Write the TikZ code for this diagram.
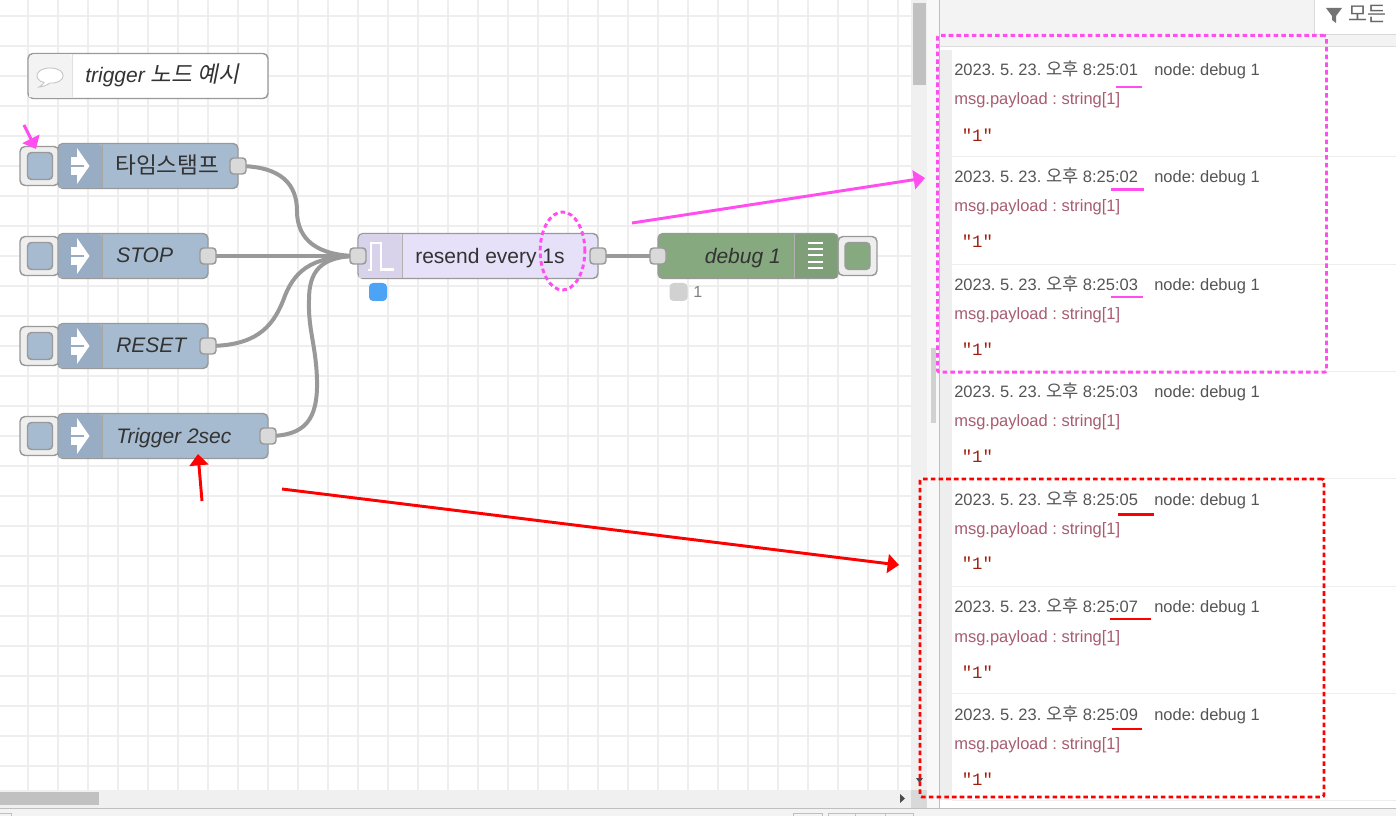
\documentclass[tikz,border=0pt]{standalone}
\usepackage{fontspec}
\usetikzlibrary{arrows.meta,shapes.geometric}
\setmainfont{Liberation Sans}
\newfontfamily\kr{Noto Sans CJK KR}
\newfontfamily\krit[FakeSlant=0.2]{Noto Sans CJK KR}
\newfontfamily\mymono{Liberation Mono}
\frenchspacing
\definecolor{gridc}{HTML}{EEEEEE}
\definecolor{panel}{HTML}{F3F3F3}
\definecolor{track}{HTML}{F0F0F0}
\definecolor{thumb}{HTML}{C1C1C1}
\definecolor{bord}{HTML}{999999}
\definecolor{inj}{HTML}{A6BBCF}
\definecolor{injd}{HTML}{98ADC3}
\definecolor{dbg}{HTML}{87A980}
\definecolor{dbgd}{HTML}{7F9F78}
\definecolor{trg}{HTML}{E6E0F8}
\definecolor{trgd}{HTML}{D8D2EA}
\definecolor{mag}{HTML}{FF4DF0}
\definecolor{rd}{HTML}{FF0000}
\definecolor{msgc}{HTML}{A85C70}
\definecolor{tsc}{HTML}{555555}
\definecolor{valc}{HTML}{A02010}
\definecolor{txt}{HTML}{333333}
\definecolor{HTMLport}{HTML}{D9D9D9}
\definecolor{HTMLblue}{HTML}{4DA3F5}
\pgfdeclarelayer{back}
\pgfdeclarelayer{wires}
\pgfsetlayers{back,wires,main}
\tikzset{
  body/.style={draw=bord,line width=1.1pt,rounded corners=3.75pt,inner sep=0pt,minimum height=33.75pt},
  btn/.style={draw=bord,fill=gridc,line width=1.1pt,rounded corners=3.75pt,inner sep=0pt,minimum width=29.25pt,minimum height=29.25pt},
  btnin/.style={draw=bord,line width=1.1pt,rounded corners=3pt,inner sep=0pt,minimum width=18.75pt,minimum height=20.25pt},
  port/.style={draw=bord,fill=HTMLport,line width=1.1pt,rounded corners=2.6pt,inner sep=0pt,minimum size=12pt},
  nlabel/.style={text=txt,inner sep=0pt,font=\fontsize{15.75}{18}\selectfont},
  itlabel/.style={nlabel,anchor=base west,font=\itshape\fontsize{15.75}{18}\selectfont},
  wire/.style={draw=bord,line width=3pt},
  tsline/.style={text=tsc,inner sep=0pt,anchor=base west,font=\fontsize{12.375}{14}\selectfont},
  msgline/.style={text=msgc,inner sep=0pt,anchor=base west,font=\fontsize{12.375}{14}\selectfont},
  valline/.style={text=valc,inner sep=0pt,anchor=base west,font=\mymono\fontsize{13}{15}\selectfont},
  magline/.style={draw=mag,line width=2.2pt},
  redline/.style={draw=rd,line width=2.2pt},
  tipm/.style={-{Triangle[length=8.5pt,width=14pt]}},
  dashbox/.style={line width=2.2pt,dash pattern=on 3.4pt off 2.4pt,line join=round,inner sep=0pt},
  sepl/.style={draw=gridc,line width=0.8pt},
  injico/.pic={
    \fill[white] (-9,-9) rectangle (3,9);
    \fill[white] (-3,-18) -- (9.5,0) -- (-3,18) -- cycle;
    \draw[injd,line width=1.2pt] (-10,0) -- (3.5,0);
  }
}
\begin{document}
\begin{tikzpicture}[x=0.75pt,y=-0.75pt]
\useasboundingbox (0,0) rectangle (1396,816);
\begin{pgfonlayer}{back}
\fill[white] (0,0) rectangle (1396,816);
% canvas grid
\foreach \k in {0,...,29} \draw[gridc,line width=1.5pt] ({28.3+30*\k},0) -- ({28.3+30*\k},790);
\foreach \k in {0,...,25} \draw[gridc,line width=1.5pt] (0,{15.7+30*\k}) -- (911,{15.7+30*\k});
% scrollbars
\fill[track] (0,790) rectangle (911,808);
\fill[thumb] (0,792) rectangle (99,805);
\fill[track] (911,0) rectangle (927,790);
\fill[thumb] (913,3) rectangle (926,85);
\fill[HTMLport] (911,790) rectangle (927,808);
\fill[black!70] (900,794) -- (905,798.5) -- (900,803) -- cycle;
\fill[black!70] (916,778) -- (923,778) -- (919.5,783) -- cycle;
\fill[panel!60!white] (927,0) rectangle (939,808);
\fill[black!18] (930.5,348) rectangle (935.5,423);
% debug panel
\fill[panel] (939,0) rectangle (1396,47);
\fill[gridc] (940,50) rectangle (952,800);
\draw[black!25,line width=0.75pt] (939.5,0) -- (939.5,808);
\draw[black!13,line width=0.75pt] (940,47) -- (1396,47);
\fill[panel] (0,809) rectangle (1396,816);
\draw[black!25,line width=0.75pt] (0,808.5) -- (1396,808.5);
\foreach \yy in {156.5,264.5,371.5,478.5,586.5,693.5,800.5} \draw[sepl] (952,\yy) -- (1396,\yy);
% filter box
\node[draw=black!15,fill=white,line width=0.75pt,inner sep=0pt,minimum width=70pt,minimum height=26pt,anchor=north west] (filterbox) at (1313.5,-1) {};
\fill[black!55] (1326,8) -- (1342,8) -- (1336,16) -- (1336,23) -- (1332,20) -- (1332,16) -- cycle;
\node[text=black!60,inner sep=0pt,anchor=west,font=\kr\fontsize{15.5}{17}\selectfont] (filtertext) at (1348,14) {모든};
% bottom toolbar stubs
\draw[black!25,line width=0.75pt] (0,813.5) -- (11,813.5) -- (11,816);
\draw[black!25,line width=0.75pt] (793,816) -- (793,813.5) -- (822,813.5) -- (822,816);
\draw[black!25,line width=0.75pt] (828,816) -- (828,813.5) -- (913,813.5) -- (913,816);
\draw[black!25,line width=0.75pt] (855,813.5) -- (855,816) (885,813.5) -- (885,816);
\end{pgfonlayer}
% comment node
\node[body,fill=white,minimum width=180pt,minimum height=33.75pt] (comment) at (148,76) {};
\fill[panel,rounded corners=3pt] (29,97.5) -- (29,54.5) -- (72,54.5) [sharp corners] -- (72,97.5) -- cycle;
\draw[black!12,line width=0.6pt] (72,54.5) -- (72,97.5);
\draw[black!22,fill=white,line width=0.7pt] (44,82.5) .. controls (33,80) and (35,68) .. (50,68) .. controls (68,68) and (67,84) .. (50,83) .. controls (47,85) and (43,87) .. (39,87) .. controls (41,86) and (44,84) .. (44,82.5) -- cycle;
\node[itlabel] (commenttext) at (85,82.5) {trigger {\krit\fontsize{17}{18}\selectfont 노드 예시}};
% inject nodes
\foreach \nm/\yc/\xc/\wdd/\xr in {a/166/148/135/238,b/256/133/112.5/208,c/346/133/112.5/208,d/436/163/157.5/268}{
  \node[btn] (btn\nm) at (39.5,\yc) {};
  \node[btnin,fill=inj] (bin\nm) at (40,\yc) {};
  \node[body,fill=inj,minimum width=\wdd pt] (inj\nm) at (\xc,\yc) {};
  \fill[injd,rounded corners=3pt] (58.8,\yc+21.8) -- (58.8,\yc-21.8) -- (102,\yc-21.8) [sharp corners] -- (102,\yc+21.8) -- cycle;
  \draw[black!35,line width=0.5pt] (102,\yc-21.8) -- (102,\yc+21.8);
  \pic at (80,\yc) {injico};
  \node[port] (out\nm) at (\xr,\yc) {};
}
\node[nlabel,anchor=west,font=\kr\fontsize{17}{18}\selectfont] (la) at (115,165) {타임스탬프};
\node[itlabel] (lb) at (116,263) {STOP};
\node[itlabel] (lc) at (116,353) {RESET};
\node[itlabel] (ld) at (116,443.5) {Trigger 2sec};
% trigger node
\node[body,fill=trg,minimum width=180pt] (trig) at (478,256) {};
\fill[trgd,rounded corners=3pt] (358.8,277.8) -- (358.8,234.2) -- (402,234.2) [sharp corners] -- (402,277.8) -- cycle;
\draw[black!30,line width=0.5pt] (402,234.2) -- (402,277.8);
\draw[white,line width=1.9pt] (367.5,270) -- (371,270) -- (371,243) -- (381,243) -- (381,269.5) -- (393.5,269.5);
\node[port] (trigin) at (358,256) {};
\node[port] (trigout) at (598,256) {};
\node[nlabel,anchor=base west] (trigtext) at (415,263.5) {resend every 1s};
\node[fill=HTMLblue,rounded corners=3pt,inner sep=0pt,minimum size=13.5pt] (trigstat) at (378,292) {};
% debug node
\node[btn] (dbtn) at (857.5,256) {};
\node[btnin,fill=dbg] (dbin) at (857.5,256) {};
\node[body,fill=dbg,minimum width=135pt] (dbgn) at (748,256) {};
\fill[dbgd,rounded corners=3pt] (837.2,277.8) -- (837.2,234.2) -- (794,234.2) [sharp corners] -- (794,277.8) -- cycle;
\draw[black!30,line width=0.5pt] (794,234.2) -- (794,277.8);
\foreach \yy in {243,249,255,262,268} \draw[white,line width=1.4pt] (808,\yy) -- (823,\yy);
\node[port] (dbgin) at (658,256) {};
\node[itlabel,anchor=base east] (dbgtext) at (781,263.5) {debug 1};
\node[fill=black!18,rounded corners=3pt,inner sep=0pt,minimum size=13.5pt] (dbgstat) at (678.5,292) {};
\node[text=black!50,inner sep=0pt,anchor=west,font=\fontsize{12}{14}\selectfont] (dbgcount) at (693,292) {1};
% wires
\begin{pgfonlayer}{wires}
\draw[wire] (outa.center) .. controls (282,166) and (297,185) .. (297,211) .. controls (297,240) and (318,256) .. (trigin.center);
\draw[wire] (outb.center) -- (trigin.center);
\draw[wire] (outc.center) .. controls (255,346) and (272,328) .. (283,301) .. controls (293,272) and (310,256) .. (trigin.center);
\draw[wire] (outd.center) .. controls (305,436) and (318,420) .. (317,380) .. controls (316,345) and (308,330) .. (309,300) .. controls (309,272) and (320,256) .. (trigin.center);
\draw[wire] (trigout.center) -- (dbgin.center);
\end{pgfonlayer}
% debug messages
\foreach \i/\tm/\yt/\ym/\yv in {1/01/76/105/141.5,2/02/183/212/247.5,3/03/291/320/355.5,4/03/398/427/462.5,5/05/505/534/569.5,6/07/612/642/678,7/09/720/749/785.5}{
  \node[tsline] (ts\i) at (954,\yt) {2023. 5. 23. {\kr\fontsize{13.2}{14}\selectfont 오후} 8:25:\tm};
  \node[tsline] (nd\i) at (1154,\yt) {node: debug 1};
  \node[msgline] (ms\i) at (954,\ym) {msg.payload : string[1]};
  \node[valline] (vl\i) at (961.5,\yv) {"1"};
}
% annotations
\coordinate (ma1) at (24,125); \coordinate (ma2) at (36,149);
\draw[magline,tipm] (ma1) -- (ma2);
\coordinate (mb1) at (632,223); \coordinate (mb2) at (925,178);
\draw[magline,tipm] (mb1) -- (mb2);
\node[draw=mag,ellipse,dashbox,minimum width=33.5pt,minimum height=58.5pt] (ell) at (562.5,251) {};
\node[draw=mag,dashbox,rounded corners=1.5pt,minimum width=291.75pt,minimum height=252.5pt,anchor=north west] (magbox) at (936,34) {};
\foreach \xa/\xb/\yy in {1116/1142/87,1111/1144/189.5,1111/1143/297}{
  \draw[magline] (\xa,\yy) -- (\xb,\yy);
}
\coordinate (ra1) at (202,501); \coordinate (ra2) at (198,454);
\draw[redline,tipm] (ra1) -- (ra2);
\coordinate (rb1) at (282,489); \coordinate (rb2) at (899,565);
\draw[redline,tipm] (rb1) -- (rb2);
\node[draw=rd,dashbox,rounded corners=1.5pt,minimum width=303pt,minimum height=238.5pt,anchor=north west] (redbox) at (918.5,477.5) {};
\foreach \xa/\xb/\yy in {1118/1154/514.5,1110/1151/619,1112/1142/729}{
  \draw[redline] (\xa,\yy) -- (\xb,\yy);
}
\end{tikzpicture}
\end{document}
